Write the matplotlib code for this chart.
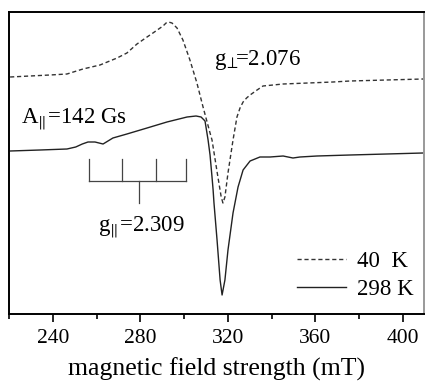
import matplotlib
matplotlib.use("Agg")
import matplotlib.pyplot as plt
from matplotlib.ticker import MultipleLocator

plt.rcParams["font.family"] = ["Liberation Serif", "DejaVu Serif"]
plt.rcParams["mathtext.fontset"] = "stix"

# 40 K spectrum (dashed), field in mT, intensity in arbitrary units
field_40k = [220.5, 238.7, 246.5, 253.8, 261.6, 269.4, 273.9, 278.5, 283.1, 285.8,
             290.4, 291.8, 292.9, 294.5, 296.8, 299.5, 302.7, 305.9, 308.7, 311.9,
             312.8, 315.2, 317.0, 317.8, 318.7, 320.1, 322.4, 324.2, 325.6, 327.0,
             328.6, 330.2, 333.4, 336.1, 345.3, 368.1, 375.9, 409.3]
signal_40k = [237, 239, 240, 245, 249, 256, 261, 270, 277, 281,
              288, 291, 292, 291, 286, 274, 254, 231, 207, 181,
              174, 141, 117, 111, 117, 141, 174, 197, 206, 212,
              216, 219, 224, 228, 230, 232, 233, 235]

# 298 K spectrum (solid)
field_298k = [220.5, 234.2, 246.5, 250.5, 253.5, 256.1, 259.3, 263.0, 267.5, 273.9,
              283.1, 292.2, 301.4, 305.5, 307.8, 309.6, 311.0, 311.9, 312.8, 313.3,
              313.7, 315.1, 316.5, 317.4, 318.7, 320.1, 322.4, 324.7, 327.0, 330.2,
              334.7, 339.3, 345.3, 349.8, 353.0, 360.8, 375.9, 409.3]
signal_298k = [163, 164, 165, 167, 170, 172, 172, 170, 176, 180,
               186, 192, 197, 198, 197, 193, 174, 159, 137, 124,
               111, 74, 34, 19, 34, 64, 101, 127, 144, 153,
               157, 157, 158, 156, 157, 158, 159, 161]

# hyperfine comb for g_parallel
comb_fields = [256.7, 271.8, 287.1, 300.8]
comb_center = 279.4
comb_top, comb_bar, comb_stem = 155, 133, 111

fig = plt.figure(figsize=(4.25, 3.84), dpi=100)
ax = fig.add_axes([9 / 425, 1 - 314 / 384, 415 / 425, 302 / 384])

ax.plot(field_40k, signal_40k, color="#333333", lw=1.0, dashes=(3, 2), label="40  K")
ax.plot(field_298k, signal_298k, color="#222222", lw=1.0, label="298 K")

# comb
for f in comb_fields:
    ax.plot([f, f], [comb_top, comb_bar], color="#444444", lw=0.9)
ax.plot([comb_fields[0], comb_fields[-1]], [comb_bar, comb_bar], color="#444444", lw=0.9)
ax.plot([comb_center, comb_center], [comb_bar, comb_stem], color="#444444", lw=0.9)

ax.text(225.5, 191, r"A$_{\|}$=142 Gs", fontsize=16.5, ha="left", va="baseline")
ax.text(313.5, 249, r"g$_{\!\perp}\!\!$=2.076", fontsize=16.5, ha="left", va="baseline")
ax.text(260.5, 82, r"g$_{\|}$=2.309", fontsize=16.5, ha="left", va="baseline")

ax.set_xlim(220, 409.7)
ax.set_ylim(0, 302)
ax.xaxis.set_major_locator(MultipleLocator(40))
ax.xaxis.set_minor_locator(MultipleLocator(20))
ax.set_xticks([240, 280, 320, 360, 400])
ax.tick_params(axis="x", which="major", direction="out", length=6, width=1.2,
               labelsize=15.5, pad=5)
ax.tick_params(axis="x", which="minor", direction="out", length=3.5, width=1.2)
ax.set_yticks([])
for s in ax.spines.values():
    s.set_linewidth(1.4)
ax.spines["right"].set_color("#999999")
ax.set_xlabel("magnetic field strength (mT)", fontsize=18.5, labelpad=7)

leg = ax.legend(loc="lower left", bbox_to_anchor=(297 / 425, 1 - 300 / 384),
                bbox_transform=fig.transFigure, frameon=False, fontsize=16.5,
                handlelength=2.15, handletextpad=0.45, labelspacing=0.3,
                borderpad=0, borderaxespad=0)

fig.savefig("out.png", dpi=100)
